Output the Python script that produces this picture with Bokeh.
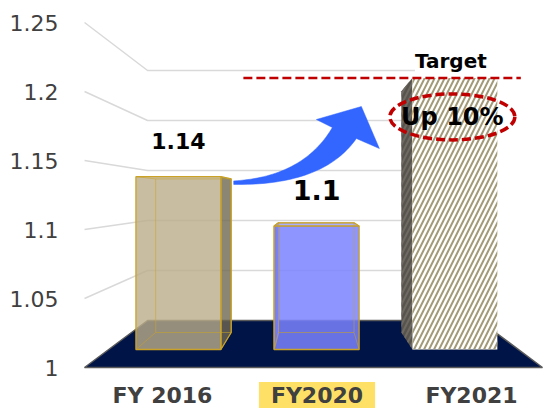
import numpy as np
from bokeh.plotting import figure
from bokeh.models import Range1d, FixedTicker, NumeralTickFormatter
from bokeh.embed import file_html
from bokeh.resources import INLINE
from bokeh.core.properties import value

# ---------------- data ----------------
categories = ["FY 2016", "FY2020", "FY2021"]
values = [1.14, 1.1, 1.22]
value_labels = ["1.14", "1.1", ""]
y_ticks = [1.0, 1.05, 1.1, 1.15, 1.2, 1.25]
target_value = 1.22
target_label = "Target"
target_note = "Up 10%"
highlight_category = "FY2020"

# ---------------- geometry (page pixels -> data) ----------------
W, H = 547, 408
LEFT = 68
PX_CAT = 154.5     # pixels per category on the front plane
PX_VAL = 1380.0    # pixels per value unit on the front plane
X0_PX = 162.0      # page x of category 0 (front plane)
Y0_PX = 367.0      # page y of value 1 (front plane)


def to_data(xp, yp):
    return (xp - X0_PX) / PX_CAT, 1 + (Y0_PX - yp) / PX_VAL


def d_px(dx, dy):
    return dx / PX_CAT, -dy / PX_VAL


x_start, _ = to_data(LEFT, 0)
x_end, _ = to_data(W, 0)
_, y_top = to_data(0, 0)
_, y_bot = to_data(0, H)

VP_U, VP_V = to_data(313, 196.3)          # vanishing point
S_FRONT, S_BAR_F, S_BAR_B, S_BACK = 1.0, 0.8946, 0.795, 0.7246
HALF = 0.3074
WALL_HALF = 1.482
left_u = VP_U - WALL_HALF
right_u = VP_U + WALL_HALF
base = y_ticks[0]


def proj(u, v, s):
    return VP_U + (u - VP_U) * s, VP_V + (v - VP_V) * s


def poly(pts):
    return [p[0] for p in pts], [p[1] for p in pts]


p = figure(width=W, height=H, x_range=Range1d(x_start, x_end),
           y_range=Range1d(y_bot, y_top), output_backend="svg",
           toolbar_location=None, x_axis_location=None,
           min_border_left=LEFT, min_border_right=0, min_border_top=0,
           min_border_bottom=0, outline_line_color=None)
p.grid.visible = False

ax = p.yaxis[0]
ax.ticker = FixedTicker(ticks=y_ticks)
ax.formatter = NumeralTickFormatter(format="0.[00]")
ax.axis_line_color = None
ax.major_tick_line_color = None
ax.minor_tick_line_color = None
ax.major_tick_out = 0
ax.major_tick_in = 0
ax.major_label_standoff = 10
ax.major_label_text_font = "DejaVu Sans"
ax.major_label_text_font_size = "22px"
ax.major_label_text_color = "#404040"

# ---------------- walls / gridlines ----------------
gx, gy = [], []
for t in y_ticks[1:]:
    a = proj(left_u, t, S_FRONT)
    b = proj(left_u, t, S_BACK)
    c = proj(right_u, t, S_BACK)
    gx.append([a[0], b[0], c[0]])
    gy.append([a[1], b[1], c[1]])
p.multi_line(gx, gy, line_color="#D9D9D9", line_width=1.5)

# floor
fx, fy = poly([proj(left_u, base, S_FRONT), proj(right_u, base, S_FRONT),
               proj(right_u, base, S_BACK), proj(left_u, base, S_BACK)])
p.patch(fx, fy, fill_color="#001448", line_color="#5A5A5A", line_width=1.5)

# ---------------- bars ----------------
front_fill = ["#BBAC89", "#7A82FF", "white"]
front_alpha = [0.8, 0.85, 1.0]
side_fill = ["#6E6650", "#5058C8", "#57534D"]
top_fill = ["#A89A78", "#9AA0FF", "#77736A"]
edge_col = ["#C9A227", "#C9A227", None]

for i, v in enumerate(values):
    xl, xr = i - HALF, i + HALF
    front = [proj(xl, base, S_BAR_F), proj(xr, base, S_BAR_F),
             proj(xr, v, S_BAR_F), proj(xl, v, S_BAR_F)]
    back = [proj(xl, base, S_BAR_B), proj(xr, base, S_BAR_B),
            proj(xr, v, S_BAR_B), proj(xl, v, S_BAR_B)]
    su = xl if i > VP_U else xr
    side = [proj(su, base, S_BAR_F), proj(su, base, S_BAR_B),
            proj(su, v, S_BAR_B), proj(su, v, S_BAR_F)]
    top = [proj(xl, v, S_BAR_F), proj(xr, v, S_BAR_F),
           proj(xr, v, S_BAR_B), proj(xl, v, S_BAR_B)]
    hatched = edge_col[i] is None
    kw_line = dict(line_color=edge_col[i], line_width=1.3) if not hatched else dict(line_color=None)
    hx = dict(hatch_pattern="/", hatch_scale=10, hatch_weight=2.0) if hatched else {}
    sx, sy = poly(side)
    p.patch(sx, sy, fill_color=side_fill[i], fill_alpha=front_alpha[i],
            hatch_color="#6E6A62" if hatched else None, **hx, **kw_line)
    if v < VP_V:
        tx, ty = poly(top)
        p.patch(tx, ty, fill_color=top_fill[i], fill_alpha=front_alpha[i], **kw_line)
    fxx, fyy = poly(front)
    p.patch(fxx, fyy, fill_color=front_fill[i], fill_alpha=front_alpha[i],
            hatch_color="#A39A78" if hatched else None, **hx, **kw_line)
    if not hatched:
        bx, by = poly(back + [back[0]])
        p.line(bx, by, line_color=edge_col[i], line_alpha=0.55, line_width=1)
        for k in range(4):
            p.line([front[k][0], back[k][0]], [front[k][1], back[k][1]],
                   line_color=edge_col[i], line_alpha=0.55, line_width=1)

# ---------------- arrow ----------------
def bez(p0, c, p2, n=40):
    t = np.linspace(0, 1, n)
    x = (1 - t) ** 2 * p0[0] + 2 * t * (1 - t) * c[0] + t ** 2 * p2[0]
    y = (1 - t) ** 2 * p0[1] + 2 * t * (1 - t) * c[1] + t ** 2 * p2[1]
    return list(x), list(y)


def off(pt, dx, dy):
    du, dv = d_px(dx, dy)
    return pt[0] + du, pt[1] + dv


A = proj(0 + HALF, values[0], S_BAR_B)
B = proj(2 - HALF, values[2], S_BAR_F)
T_up = off(A, 2.5, 2.0)
T_lo = off(A, 2.5, 5.5)
U1 = off(B, -80, 49.6)
L1 = off(B, -56, 60.6)
HL = off(B, -96, 41.6)
TIP = off(B, -51, 28.6)
HR = off(B, -33, 70.6)
ux_, uy_ = bez(T_up, off(A, 72, -2), U1)
lx_, ly_ = bez(T_lo, off(A, 92, 7), L1)
ax_ = ux_ + [HL[0], TIP[0], HR[0]] + lx_[::-1]
ay_ = uy_ + [HL[1], TIP[1], HR[1]] + ly_[::-1]
p.patch(ax_, ay_, fill_color="#3366FF", line_color="#3366FF", line_width=0.5)

# ---------------- target line & notes ----------------
t_l = proj(0.47, target_value, S_BAR_F)
t_r = proj(2 + HALF + 0.17, target_value, S_BAR_F)
p.line([t_l[0], t_r[0]], [t_l[1], t_r[1]], line_color="#C00000",
       line_width=2.5, line_dash="9 4")

tc = proj(2, target_value, S_BAR_F)
p.text(x=[tc[0]], y=[tc[1]], text=[target_label], x_offset=-4, y_offset=-17,
       text_align="center", text_baseline="middle",
       text_font=value("DejaVu Sans"), text_font_style="bold",
       text_font_size="20px", text_color="black",
       background_fill_color="white")

ec = off(tc, -2.5, 39)
p.ellipse(x=[ec[0]], y=[ec[1]], width=125 / PX_CAT, height=46 / PX_VAL,
          fill_color=None, line_color="#C00000", line_width=3.5, line_dash="9 4")
p.text(x=[ec[0]], y=[ec[1]], text=[target_note], text_align="center",
       text_baseline="middle", text_font=value("DejaVu Sans"),
       text_font_style="bold", text_font_size="24px", text_color="black")

# value labels
lab_size = ["22px", "27px", "22px"]
for i, v in enumerate(values):
    if value_labels[i]:
        c = proj(i, v, S_BAR_F)
        p.text(x=[c[0]], y=[c[1]], text=[value_labels[i]], y_offset=-36,
               text_align="center", text_baseline="middle",
               text_font=value("DejaVu Sans"), text_font_style="bold",
               text_font_size=lab_size[i], text_color="black")

# category labels
for i, cat in enumerate(categories):
    kw = {}
    if cat == highlight_category:
        kw = dict(background_fill_color="#FFE066",
                  padding=dict(left=12, right=12, top=1, bottom=1))
    p.text(x=[i], y=[base], text=[cat], y_offset=28, text_align="center",
           text_baseline="middle", text_font=value("DejaVu Sans"),
           text_font_style="bold", text_font_size="22px", text_color="#404040", **kw)

open("out.html", "w").write(file_html(p, INLINE))
